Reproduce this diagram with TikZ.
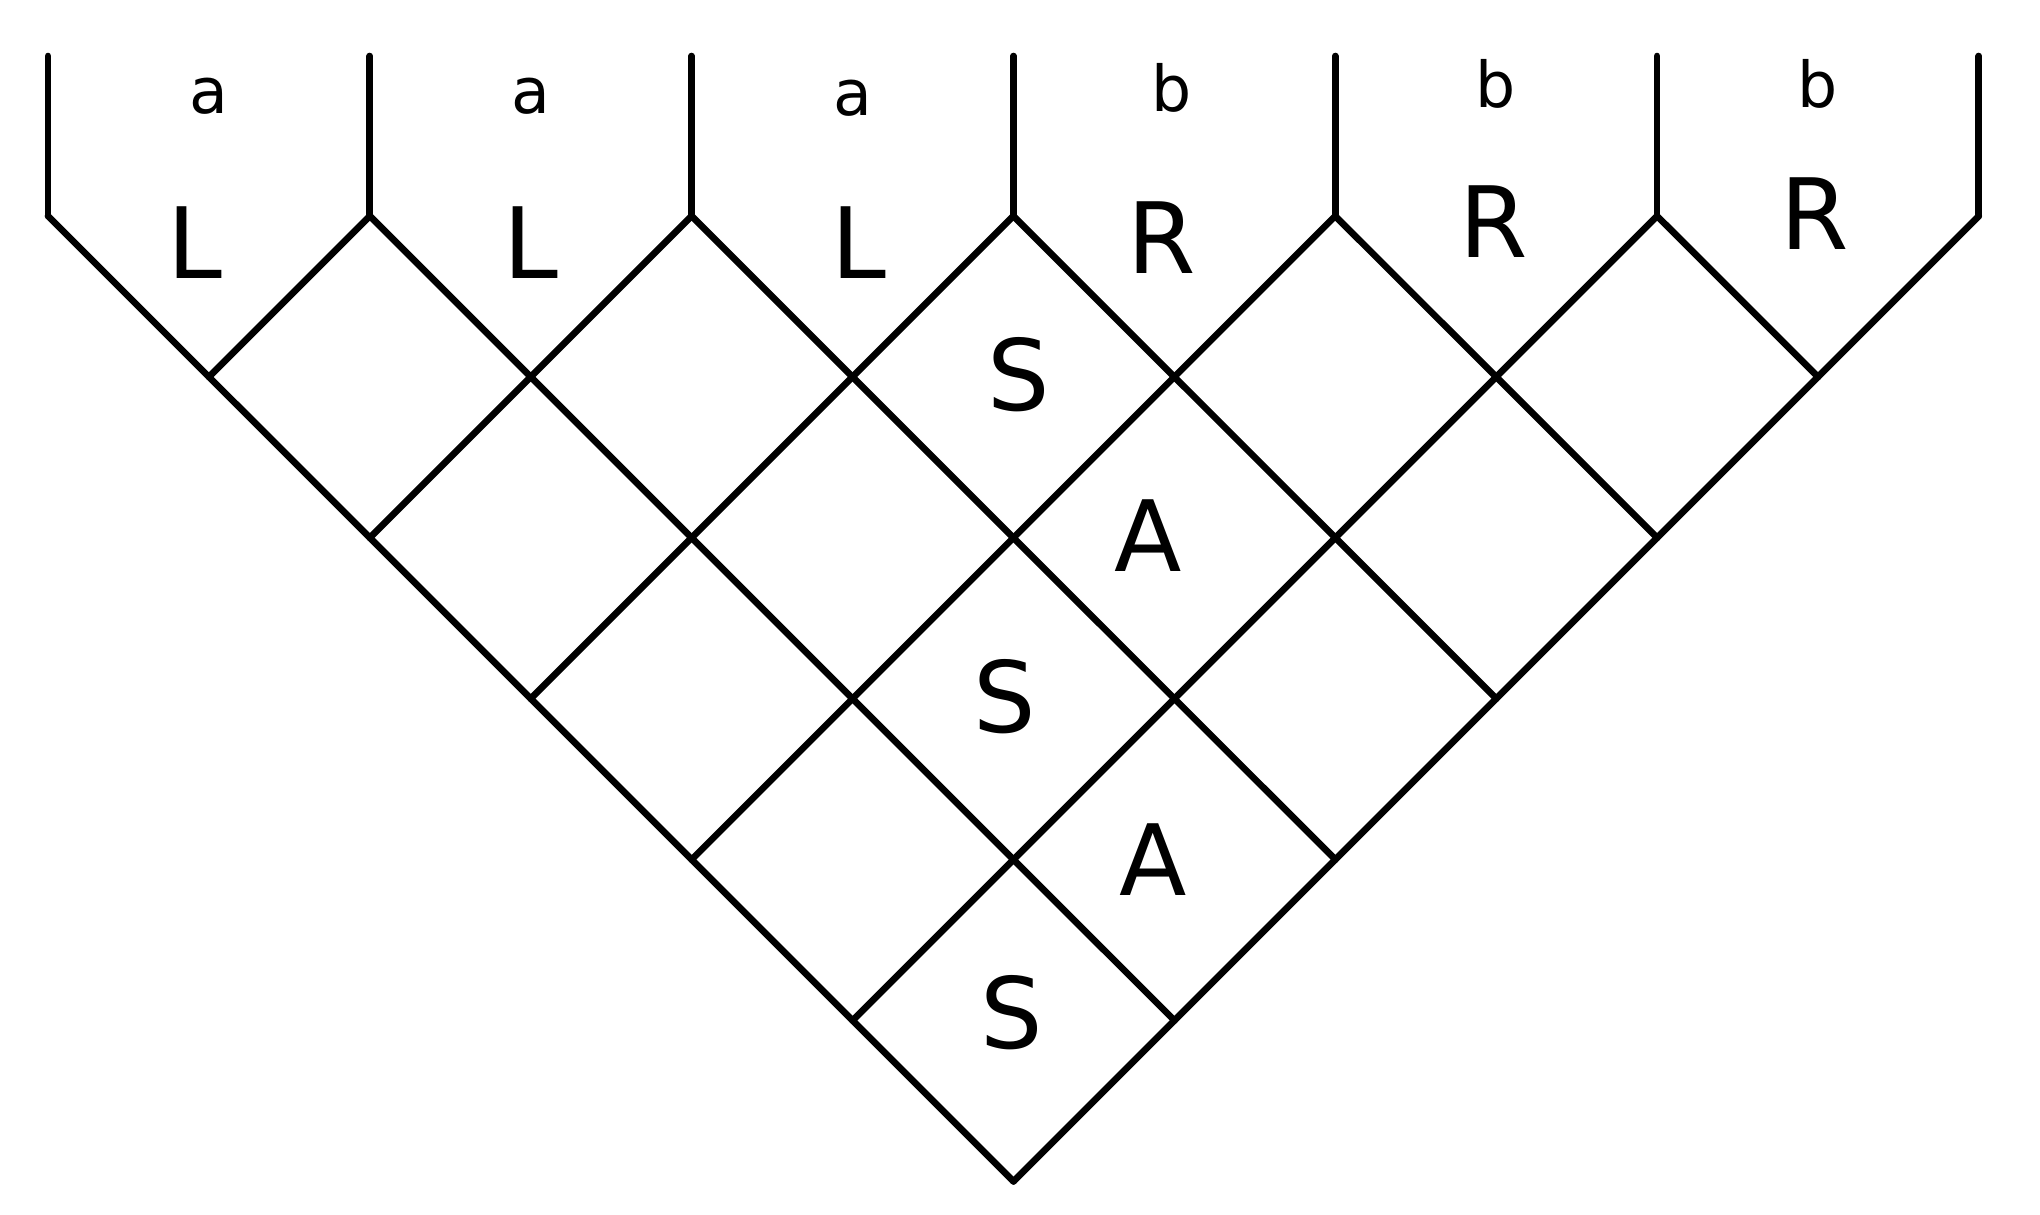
\documentclass[tikz,border=0pt]{standalone}
\usepackage{fontspec}
\setmainfont{DejaVu Sans}
\begin{document}
\begin{tikzpicture}[x=0.01cm,y=-0.01cm,
  gridline/.style={line width=1.9pt,line cap=round,line join=round},
  term/.style={font=\fontsize{18}{20}\selectfont,inner sep=0pt},
  nonterm/.style={font=\fontsize{28}{30}\selectfont,inner sep=0pt}]
\useasboundingbox (0,0) rectangle (2040,1214);
% top ends, bottoms of verticals, boundary points
\foreach \i in {0,...,6}{
  \coordinate (T\i) at ({48+321.8*\i},56);
  \coordinate (P\i) at ({48+321.8*\i},216);
  \coordinate (L\i) at ({48+160.9*\i},{216+160.9*\i});
  \coordinate (R\i) at ({1979-160.9*\i},{216+160.9*\i});
}
% verticals
\foreach \i in {0,...,6}{ \draw[gridline] (T\i) -- (P\i); }
% down-right lines
\foreach \i in {0,...,5}{
  \pgfmathtruncatemacro{\j}{6-\i}
  \draw[gridline] (P\i) -- (R\j);
}
% down-left lines
\foreach \i in {1,...,6}{ \draw[gridline] (P\i) -- (L\i); }
% terminals and unit cells
\node[term] (a1) at (209,96) {a};
\node[term] (a2) at (531,96) {a};
\node[term] (a3) at (853,98) {a};
\node[term] (b1) at (1172,88) {b};
\node[term] (b2) at (1496,84) {b};
\node[term] (b3) at (1818,84) {b};
\node[nonterm] (n1) at (195,243) {L};
\node[nonterm] (n2) at (531,243) {L};
\node[nonterm] (n3) at (859,243) {L};
\node[nonterm] (n4) at (1162,238) {R};
\node[nonterm] (n5) at (1494,222) {R};
\node[nonterm] (n6) at (1815,214) {R};
% higher cells
\node[nonterm] (s1) at (1019,375) {S};
\node[nonterm] (s2) at (1148,536) {A};
\node[nonterm] (s3) at (1005,697) {S};
\node[nonterm] (s4) at (1153,860) {A};
\node[nonterm] (s5) at (1012,1013) {S};
\end{tikzpicture}
\end{document}
